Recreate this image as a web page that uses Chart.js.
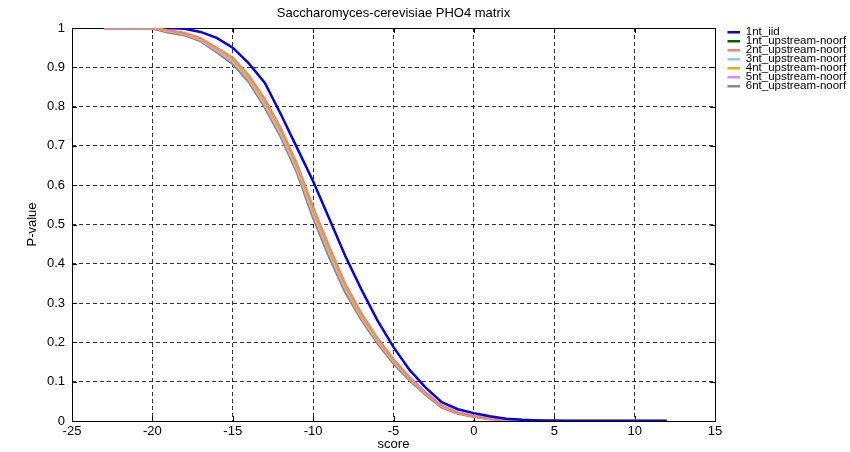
<!DOCTYPE html>
<html>
<head>
<meta charset="utf-8">
<script src="https://cdn.jsdelivr.net/npm/chart.js@4"></script>
<style>
  html, body { margin: 0; padding: 0; background: #fff; }
  #wrap { width: 850px; height: 452px; position: relative; }
</style>
</head>
<body>
<div id="wrap"><canvas id="pvalueChart"></canvas></div>
<script>
// ===== data =====
const chartTitle = 'Saccharomyces-cerevisiae PHO4 matrix';
const xTitle = 'score';
const yTitle = 'P-value';

const scores = [-23, -20, -19, -18, -17, -16, -15, -14, -13, -12, -11, -10, -9, -8, -7, -6,
                -5, -4, -3, -2, -1, 0, 1, 2, 3, 4, 5, 6, 8, 10, 12];

const seriesNames = ['1nt_iid', '1nt_upstream-noorf', '2nt_upstream-noorf', '3nt_upstream-noorf',
                     '4nt_upstream-noorf', '5nt_upstream-noorf', '6nt_upstream-noorf'];
const seriesColors = ['#0000ff', '#006400', '#fa8072', '#87ceeb', '#ffa500', '#ee82ee', '#888888'];

const iid1 = [null, null, 1, 0.998, 0.99, 0.975, 0.95, 0.91, 0.86, 0.78, 0.695, 0.61, 0.515, 0.42, 0.335, 0.256,
              0.188, 0.13, 0.085, 0.048, 0.03, 0.02, 0.012, 0.006, 0.003, 0.0015, 0.0005, 0.0002, 0, 0, 0];
const up1 = [1, 1, 0.993, 0.986, 0.972, 0.946, 0.918, 0.872, 0.81, 0.735, 0.645, 0.532, 0.432, 0.34, 0.266, 0.206,
             0.153, 0.109, 0.07, 0.038, 0.021, 0.012, 0.006, 0.003, 0.0012, 0.0005, 0.0002, 0.0001, 0, 0, 0];
const up2 = [1, 1, 0.995, 0.988, 0.975, 0.95, 0.925, 0.88, 0.82, 0.745, 0.655, 0.545, 0.445, 0.35, 0.275, 0.212,
             0.158, 0.112, 0.073, 0.04, 0.022, 0.013, 0.007, 0.003, 0.0013, 0.0005, 0.0002, 0.0001, 0, 0, 0];
const up3 = [1, 1, 0.992, 0.985, 0.97, 0.944, 0.915, 0.87, 0.806, 0.73, 0.64, 0.528, 0.428, 0.337, 0.264, 0.204,
             0.151, 0.108, 0.07, 0.037, 0.021, 0.012, 0.006, 0.003, 0.0012, 0.0005, 0.0002, 0.0001, 0, 0, 0];
const up4 = [1, 1, 0.993, 0.986, 0.972, 0.947, 0.92, 0.874, 0.812, 0.737, 0.647, 0.535, 0.435, 0.342, 0.268, 0.207,
             0.154, 0.11, 0.071, 0.038, 0.021, 0.012, 0.006, 0.003, 0.0012, 0.0005, 0.0002, 0.0001, 0, 0, 0];
const up5 = [1, 1, 0.991, 0.984, 0.969, 0.942, 0.913, 0.868, 0.803, 0.728, 0.638, 0.525, 0.425, 0.335, 0.262, 0.202,
             0.15, 0.107, 0.069, 0.037, 0.02, 0.012, 0.006, 0.003, 0.0012, 0.0005, 0.0002, 0.0001, 0, 0, 0];
const up6 = [1, 1, 0.99, 0.983, 0.968, 0.94, 0.91, 0.865, 0.8, 0.725, 0.635, 0.52, 0.42, 0.33, 0.26, 0.2,
             0.148, 0.105, 0.068, 0.036, 0.02, 0.012, 0.006, 0.003, 0.0012, 0.0005, 0.0002, 0.0001, 0, 0, 0];

const seriesValues = [iid1, up1, up2, up3, up4, up5, up6];
const seriesWidths = [2.5, 2, 2, 2, 2, 2, 3.5];
// higher = drawn further back (green is hidden under the others in the reference)
const seriesOrder = [0, 6, 1, 3, 2, 3, 5];

const xTicks = [-25, -20, -15, -10, -5, 0, 5, 10, 15];
const yTicks = [0, 0.1, 0.2, 0.3, 0.4, 0.5, 0.6, 0.7, 0.8, 0.9, 1];

const FONT = "'Liberation Sans', Arial, Helvetica, sans-serif";

// gnuplot-like layout: title over the plot, legend beside it, frame with inward ticks
const framePlugin = {
    id: 'frame',
    afterLayout(chart) {
        const a = chart.chartArea;
        const tb = chart.titleBlock;
        if (tb) {
            tb.left = a.left;
            tb.right = a.right;
        }
        const lg = chart.legend;
        if (lg) {
            lg.left = a.right + 12.5;
            lg.right = chart.width;
            lg.top = 0;
            lg.bottom = chart.height;
        }
    },
    beforeDatasetsDraw(chart) {
        const { ctx, chartArea: a, scales } = chart;
        ctx.save();
        ctx.strokeStyle = '#000';
        ctx.lineWidth = 1;
        ctx.setLineDash([]);
        ctx.strokeRect(Math.round(a.left) + 0.5, Math.round(a.top) + 0.5,
                       Math.round(a.right - a.left), Math.round(a.bottom - a.top));
        ctx.beginPath();
        xTicks.forEach(v => {
            const px = Math.round(scales.x.getPixelForValue(v)) + 0.5;
            ctx.moveTo(px, a.bottom); ctx.lineTo(px, a.bottom - 5);
            ctx.moveTo(px, a.top); ctx.lineTo(px, a.top + 5);
        });
        yTicks.forEach(v => {
            const py = Math.round(scales.y.getPixelForValue(v)) + 0.5;
            ctx.moveTo(a.left, py); ctx.lineTo(a.left + 5, py);
            ctx.moveTo(a.right, py); ctx.lineTo(a.right - 5, py);
        });
        ctx.stroke();
        ctx.restore();
    }
};

function buildDatasets() {
    return seriesNames.map((name, i) => ({
        label: name,
        data: scores.map((s, j) => ({ x: s, y: seriesValues[i][j] })),
        borderColor: seriesColors[i],
        backgroundColor: seriesColors[i],
        borderWidth: seriesWidths[i],
        order: seriesOrder[i],
        showLine: true,
        pointRadius: 0,
        tension: 0,
        spanGaps: false
    }));
}

const ctx = document.getElementById('pvalueChart').getContext('2d');
new Chart(ctx, {
    type: 'scatter',
    data: { datasets: buildDatasets() },
    options: {
        responsive: true,
        maintainAspectRatio: false,
        animation: false,
        layout: { padding: { top: 0, right: 10, bottom: 0, left: 0 } },
        plugins: {
            title: {
                display: true,
                text: chartTitle,
                color: '#000',
                font: { family: FONT, size: 13, weight: 'normal' },
                padding: { top: 6, bottom: 6.4 }
            },
            legend: {
                position: 'right',
                align: 'start',
                maxWidth: 125,
                title: {
                    display: true,
                    text: '',
                    font: { size: 1 },
                    padding: { top: 27.8, bottom: 0 }
                },
                labels: {
                    color: '#000',
                    font: { family: FONT, size: 11.5 },
                    boxWidth: 15,
                    boxHeight: 2.5,
                    padding: -2.5,
                    sort: (a, b) => a.datasetIndex - b.datasetIndex,
                    generateLabels(chart) {
                        return Chart.defaults.plugins.legend.labels.generateLabels(chart)
                            .map(l => Object.assign(l, { lineWidth: 0 }));
                    }
                }
            },
            tooltip: { enabled: false }
        },
        scales: {
            x: {
                type: 'linear',
                min: -25,
                max: 15,
                afterFit: s => { s.height = 31; },
                afterBuildTicks: s => { s.ticks = xTicks.map(v => ({ value: v })); },
                ticks: { color: '#000', font: { family: FONT, size: 13 }, padding: 3 },
                grid: { color: 'rgba(0,0,0,0.8)', drawTicks: false, lineWidth: 1 },
                border: { display: false, dash: [4, 3] },
                title: {
                    display: true, text: xTitle, color: '#000',
                    font: { family: FONT, size: 13 }, padding: { top: 0, bottom: 0 }
                }
            },
            y: {
                type: 'linear',
                min: 0,
                max: 1,
                afterFit: s => { s.width = 72; },
                afterBuildTicks: s => { s.ticks = yTicks.map(v => ({ value: v })); },
                ticks: {
                    color: '#000', font: { family: FONT, size: 13 }, padding: 7,
                    callback: v => String(+v.toFixed(1))
                },
                grid: { color: 'rgba(0,0,0,0.8)', drawTicks: false, lineWidth: 1 },
                border: { display: false, dash: [4, 3] },
                title: {
                    display: true, text: yTitle, color: '#000',
                    font: { family: FONT, size: 13 }, padding: { top: 25, bottom: 0 }
                }
            }
        }
    },
    plugins: [framePlugin]
});
</script>
</body>
</html>
